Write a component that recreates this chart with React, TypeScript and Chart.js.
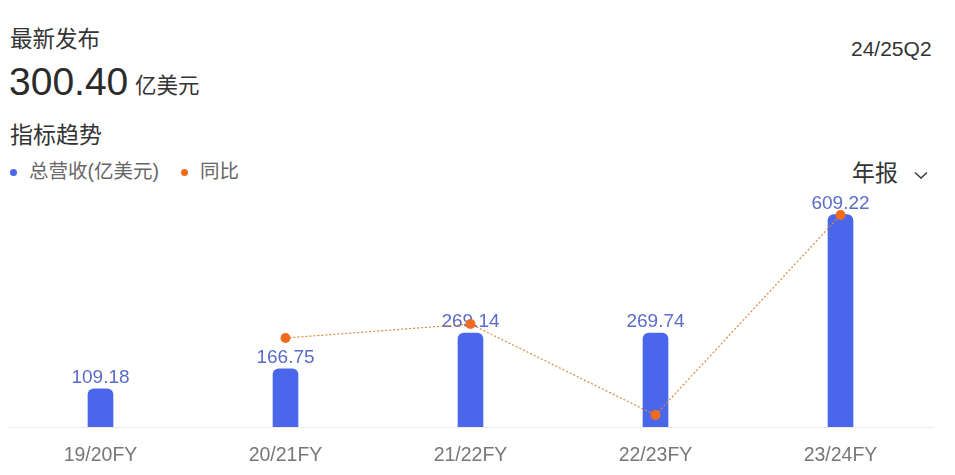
import React, { useEffect, useRef } from "react";
import { Chart, registerables } from "chart.js";

Chart.register(...registerables);

const categories = ["19/20FY", "20/21FY", "21/22FY", "22/23FY", "23/24FY"];
const revenue = [109.18, 166.75, 269.14, 269.74, 609.22];
const yoy = [null, 48.6, 57.4, 0.2, 125.9];
const revenueLabels = ["109.18", "166.75", "269.14", "269.74", "609.22"];

const FONT = '"Liberation Sans", "Noto Sans CJK SC", Arial, sans-serif';

const labelPlugin = {
  id: "barLabels",
  afterDatasetDraw(chart: any, args: any) {
    if (args.index !== 1) return;
    const ctx = chart.ctx;
    const meta = chart.getDatasetMeta(1);
    ctx.save();
    ctx.font = `19px ${FONT}`;
    ctx.fillStyle = "#5a6bc8";
    ctx.textAlign = "center";
    ctx.textBaseline = "alphabetic";
    meta.data.forEach((el: any, i: number) => {
      ctx.fillText(revenueLabels[i], el.x, el.y - 6);
    });
    ctx.restore();
  },
};

export default function App() {
  const ref = useRef<HTMLCanvasElement | null>(null);
  useEffect(() => {
    if (!ref.current) return;
    const chart = new Chart(ref.current, {
      type: "bar",
      data: {
        labels: categories,
        datasets: [
          {
            type: "line",
            label: "同比",
            data: yoy as any,
            yAxisID: "y1",
            borderColor: "#d98a3a",
            borderWidth: 1.2,
            borderDash: [2, 2],
            pointRadius: 5,
            pointBackgroundColor: "#f26b1d",
            pointBorderColor: "#f26b1d",
            pointBorderWidth: 0,
            order: 0,
            spanGaps: false,
          } as any,
          {
            type: "bar",
            label: "总营收(亿美元)",
            data: revenue,
            yAxisID: "y",
            backgroundColor: "#4a66ea",
            barThickness: 25,
            borderRadius: { topLeft: 6, topRight: 6, bottomLeft: 0, bottomRight: 0 },
            borderSkipped: "bottom",
            order: 1,
          } as any,
        ],
      },
      options: {
        animation: false,
        responsive: false,
        maintainAspectRatio: false,
        layout: { padding: { left: 8, right: 22, top: 33, bottom: 0 } },
        plugins: { legend: { display: false }, tooltip: { enabled: false } },
        scales: {
          x: {
            grid: { display: false, drawTicks: false },
            border: { display: true, color: "#ebebeb", width: 1 },
            ticks: { padding: 17, color: "#777", font: { size: 19.5, family: FONT } },
            afterFit: (scale: any) => {
              scale.height = 48;
            },
          },
          y: { display: false, min: 0, max: 700 },
          y1: { display: false, position: "right", min: -7.3, max: 146 },
        },
      },
      plugins: [labelPlugin],
    });
    return () => chart.destroy();
  }, []);

  const base: React.CSSProperties = { position: "absolute", fontFamily: FONT, whiteSpace: "nowrap", lineHeight: 1 };
  return (
    <div style={{ position: "absolute", left: 0, top: 0, width: 955, height: 475, background: "#fff", overflow: "hidden" }}>
      <div style={{ ...base, left: 10, top: 29, fontSize: 22.5, color: "#333" }}>最新发布</div>
      <div style={{ ...base, left: 9, top: 62, fontSize: 39, color: "#2b2b2b" }}>300.40</div>
      <div style={{ ...base, left: 135, top: 76, fontSize: 21.5, color: "#333" }}>亿美元</div>
      <div style={{ ...base, left: 851, top: 38, fontSize: 21, color: "#333" }}>24/25Q2</div>
      <div style={{ ...base, left: 10, top: 124, fontSize: 23, color: "#333" }}>指标趋势</div>
      <div style={{ ...base, left: 10, top: 169, width: 7, height: 7, borderRadius: 4, background: "#4a66ea" }} />
      <div style={{ ...base, left: 29, top: 162, fontSize: 19.5, color: "#666" }}>总营收(亿美元)</div>
      <div style={{ ...base, left: 181, top: 169, width: 7, height: 7, borderRadius: 4, background: "#f26b1d" }} />
      <div style={{ ...base, left: 200, top: 162, fontSize: 19.5, color: "#666" }}>同比</div>
      <div style={{ ...base, left: 852, top: 162, fontSize: 23, color: "#333" }}>年报</div>
      <svg style={{ position: "absolute", left: 914, top: 171 }} width="14" height="9" viewBox="0 0 14 9">
        <polyline points="1,1.5 7,7 13,1.5" fill="none" stroke="#333" strokeWidth="1.3" />
      </svg>
      <canvas ref={ref} width={955} height={325} style={{ position: "absolute", left: 0, top: 150, width: 955, height: 325 }} />
    </div>
  );
}
